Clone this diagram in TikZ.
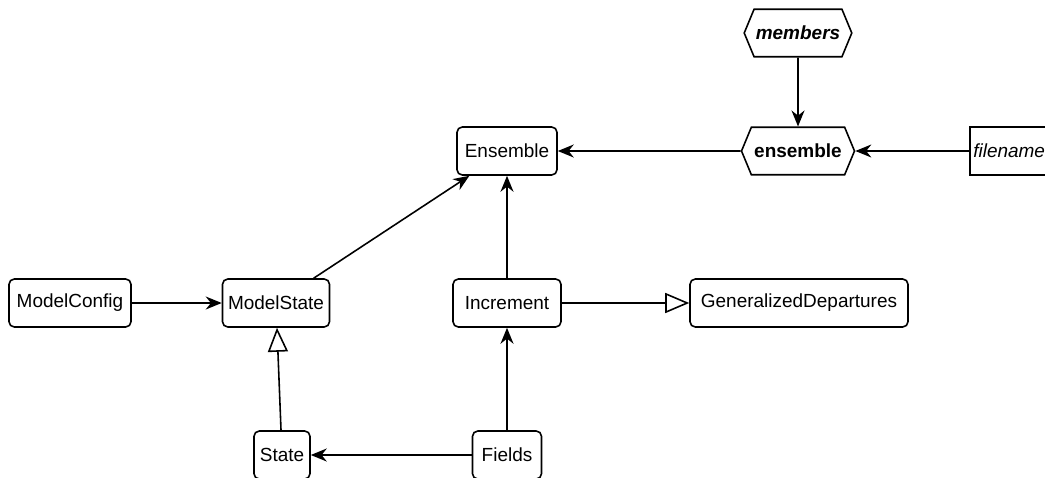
\documentclass[tikz,border=0pt]{standalone}
\usepackage{fontspec}
\setmainfont{Liberation Sans}
\usetikzlibrary{arrows.meta, shapes.symbols}

\begin{document}
\begin{tikzpicture}[x=0.02cm, y=-0.02cm, line width=0.9pt,
    every node/.style={font=\fontsize{10.8pt}{13pt}\selectfont},
    cls/.style={draw, rounded corners=3pt, minimum height=0.96cm, inner xsep=2pt},
    param/.style={draw, signal, signal to=east and west, signal pointer angle=135,
        minimum height=0.95cm, inner xsep=1pt},
    uses/.style={-{Stealth[length=0.32cm, width=0.26cm]}},
    inherits/.style={-{Triangle[open, length=0.48cm, width=0.4cm]}}]
        \useasboundingbox (0,0) rectangle (1045,477);

        % Draw the inputs of the ensemble
        \node[param, minimum width=2.12cm] (members) at (798,33) {\textbf{\textit{members}}};
        \node[param, minimum width=2.26cm] (ensemble) at (798,151) {\textbf{ensemble}};
        \node[draw, anchor=west, minimum height=0.96cm, inner xsep=2pt] (filename) at (969,151) {\textit{filename}};

        % Draw the classes
        \node[cls, minimum width=2cm] (Ensemble) at (507,151) {Ensemble};
        \node[cls, minimum width=2.44cm] (ModelConfig) at (70,303) {ModelConfig};
        \node[cls, minimum width=2.14cm] (ModelState) at (276,303) {ModelState};
        \node[cls, minimum width=2.16cm] (Increment) at (507,303) {Increment};
        \node[cls, minimum width=4.36cm] (GeneralizedDepartures) at (799,303) {GeneralizedDepartures};
        \node[cls, minimum width=1.12cm] (State) at (282,455) {State};
        \node[cls, minimum width=1.38cm] (Fields) at (507,455) {Fields};

        % Draw the links between them
        \draw[uses] (members) -- (ensemble);
        \draw[uses] (filename) -- (ensemble);
        \draw[uses] (ensemble) -- (Ensemble);
        \draw[uses] (ModelState) -- (Ensemble);
        \draw[uses] (Increment) -- (Ensemble);
        \draw[uses] (ModelConfig) -- (ModelState);
        \draw[inherits] (Increment) -- (GeneralizedDepartures);
        \draw[inherits] (State) -- (ModelState);
        \draw[uses] (Fields) -- (Increment);
        \draw[uses] (Fields) -- (State);
    \end{tikzpicture}
\end{document}
